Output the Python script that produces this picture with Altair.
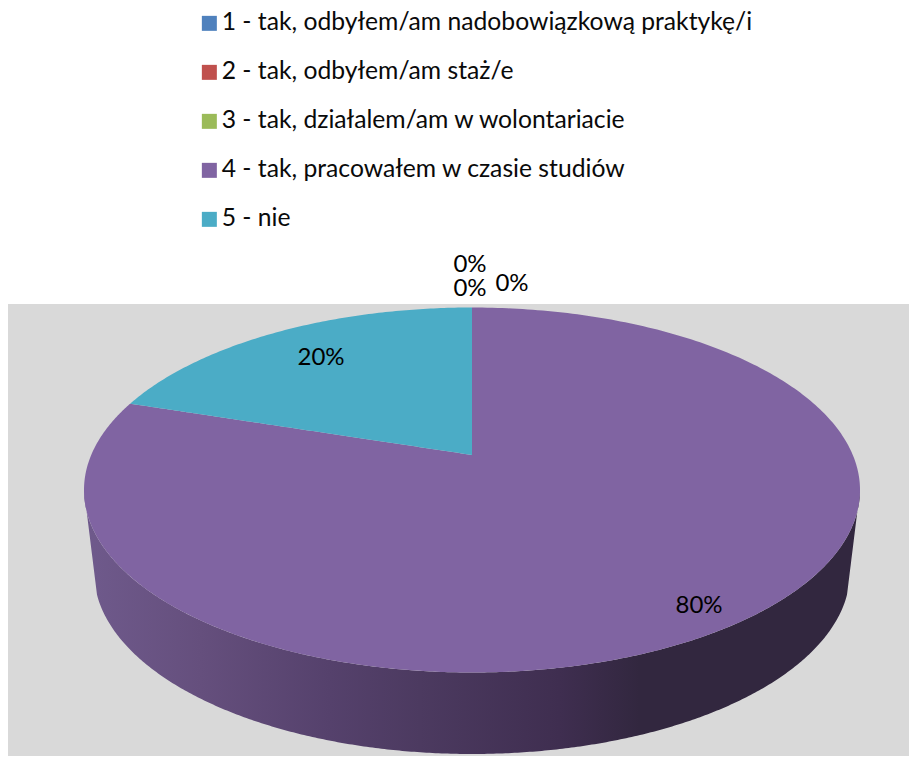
import math
import altair as alt
import pandas as pd

categories = [
    "1 - tak, odbyłem/am nadobowiązkową praktykę/i",
    "2 - tak, odbyłem/am staż/e",
    "3 - tak, działalem/am w wolontariacie",
    "4 - tak, pracowałem w czasie studiów",
    "5 - nie",
]
values = [0, 0, 0, 80, 20]
colors = ["#4f81bd", "#c0504d", "#9bbb59", "#8064a2", "#4bacc6"]
label_text = ["0%", "0%", "0%", "80%", "20%"]
label_x = [470, 470, 512, 699, 321]
label_y = [265, 289, 284, 606, 358]

CX, CY, A, B = 472.0, 490.0, 388.0, 182.5
BCY, BA, BB = 572.0, 378.0, 182.0
K = 0.192  # perspective shift of the pie's centre
APEX_Y = CY - K * B


def upper(x):
    return CY - B * math.sqrt(max(0.0, 1 - ((x - CX) / A) ** 2))


def lower(x):
    return CY + B * math.sqrt(max(0.0, 1 - ((x - CX) / A) ** 2))


def bottom(x):
    return BCY + BB * math.sqrt(max(0.0, 1 - ((x - CX) / BA) ** 2))


# where the boundary between the two visible slices meets the rim
theta = 2 * math.pi * sum(values[:4]) / sum(values)
den = 1 + K * math.cos(theta)
ex = CX + A * math.sin(theta) * math.sqrt(1 - K * K) / den
ey = CY - B * (math.cos(theta) + K) / den


def ray(x):
    return APEX_Y + (ey - APEX_Y) * (CX - x) / (CX - ex)


def sweep(x0, x1, n=120):
    """x positions from x0 to x1, denser towards the rim of the ellipse."""
    t0 = math.acos(max(-1, min(1, (x0 - CX) / A)))
    t1 = math.acos(max(-1, min(1, (x1 - CX) / A)))
    return [CX + A * math.cos(t0 + (t1 - t0) * i / n) for i in range(n + 1)]


rows = []
for x in sweep(CX - A, ex):
    rows.append(dict(cat=categories[3], x=x, y=upper(x), y2=lower(x)))
for x in sweep(ex, CX)[1:]:
    rows.append(dict(cat=categories[3], x=x - 0.01, y=ray(x), y2=lower(x)))
for x in sweep(CX, CX + A):
    rows.append(dict(cat=categories[3], x=x + 0.01, y=upper(x), y2=lower(x)))
for x in sweep(ex, CX):
    rows.append(dict(cat=categories[4], x=x, y=upper(x), y2=ray(x)))
top = pd.DataFrame(rows)

wall_rows = []
left_x, right_x = CX - BA + 3, CX + BA - 3
for x in sweep(CX - A, CX + A, 400):
    if x < left_x:
        w = CY + (bottom(left_x) - CY) * (x - (CX - A)) / (left_x - (CX - A))
    elif x > right_x:
        w = CY + (bottom(right_x) - CY) * ((CX + A) - x) / ((CX + A) - right_x)
    else:
        w = bottom(x)
    wall_rows.append(dict(x=x, y=lower(x), y2=w))
wall = pd.DataFrame(wall_rows)

labels = pd.DataFrame(dict(t=label_text, x=label_x, y=label_y))

xs = alt.Scale(domain=[8, 909], range=[0, 901], nice=False, zero=False)
ys = alt.Scale(domain=[8, 756], range=[0, 748], nice=False, zero=False)
X = alt.X("x:Q", scale=xs, axis=None)
Y = alt.Y("y:Q", scale=ys, axis=None)

bg = alt.Chart(pd.DataFrame({"a": [0]})).mark_rect(color="#d9d9d9").encode(
    x=alt.value(0), x2=alt.value(901), y=alt.value(296), y2=alt.value(748)
)

wall_layer = alt.Chart(wall).mark_area(
    color=alt.Gradient(
        gradient="linear", x1=0, x2=1, y1=0, y2=0,
        stops=[
            alt.GradientStop(color="#6f5a8c", offset=0),
            alt.GradientStop(color="#654f7d", offset=0.15),
            alt.GradientStop(color="#55416c", offset=0.317),
            alt.GradientStop(color="#4c3a60", offset=0.433),
            alt.GradientStop(color="#3f2e50", offset=0.613),
            alt.GradientStop(color="#32273f", offset=0.716),
            alt.GradientStop(color="#32273f", offset=1),
        ],
    ),
    line=False,
).encode(x=X, y=Y, y2=alt.Y2("y2"))

top_layer = alt.Chart(top).mark_area(opacity=1).encode(
    x=X,
    y=Y,
    y2=alt.Y2("y2"),
    color=alt.Color(
        "cat:N",
        scale=alt.Scale(domain=categories, range=colors),
        legend=alt.Legend(
            title=None,
            orient="none",
            legendX=189,
            legendY=3,
            symbolType="square",
            symbolSize=225,
            symbolStrokeWidth=0,
            symbolOpacity=1,
            labelFont="Lato",
            labelFontSize=24.7,
            labelColor="#0a0a0a",
            labelLimit=700,
            labelOffset=0,
            rowPadding=23,
            padding=0,
        ),
    ),
)

text_layer = alt.Chart(labels).mark_text(
    font="Lato", fontSize=24, color="#000000", align="center", baseline="middle"
).encode(x=X, y=Y, text="t:N")

chart = (
    alt.layer(bg, wall_layer, top_layer, text_layer)
    .properties(width=901, height=748, padding=0, background="#ffffff")
    .configure_view(stroke=None)
)

chart.save("out.html", embed_options={"renderer": "svg", "actions": False})
